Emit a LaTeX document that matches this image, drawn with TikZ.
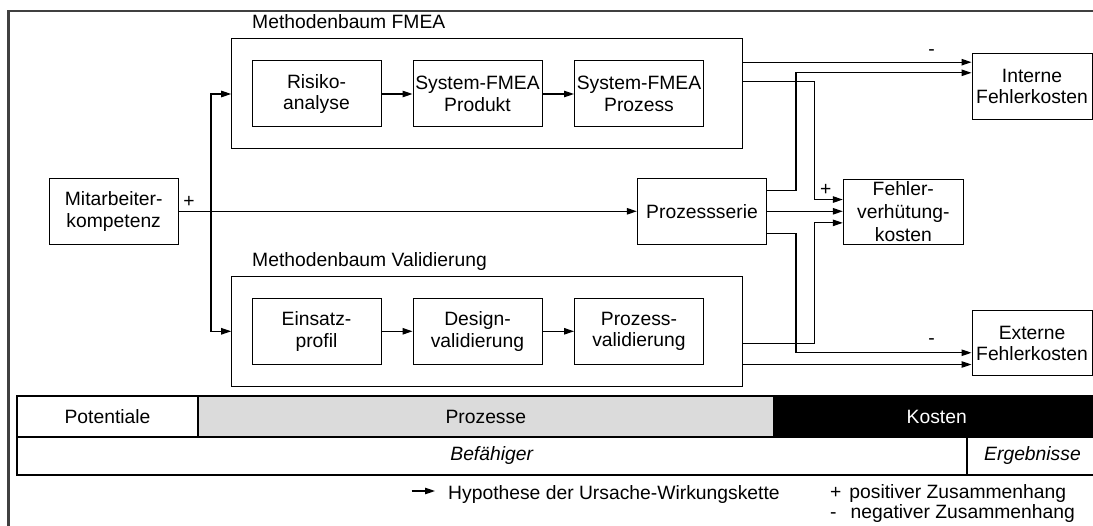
\documentclass[tikz,border=0pt]{standalone}
\usepackage{fontspec}
\setmainfont{Liberation Sans}
\usetikzlibrary{arrows.meta}
\begin{document}
\begin{tikzpicture}[x=1pt,y=-1pt,
  every node/.style={font=\fontsize{19.3}{21.5}\selectfont, inner sep=0pt},
  box/.style={draw, line width=1pt, align=center, minimum height=66pt},
  group/.style={draw, line width=1pt, minimum width=511pt, minimum height=110pt},
  conn/.style={line width=1.1pt, -{Triangle[length=10pt,width=6.5pt]}},
  band/.style={line width=1.8pt},
  grouptitle/.style={anchor=west}]
\useasboundingbox (0,0) rectangle (1093,526);
\clip (0,0) rectangle (1093,526);

% outer frame
\draw[line width=2.5pt, draw=black!75] (8.5,11) rectangle (1130,570);

% columns used for the orthogonal connectors
\coordinate (cb) at (211,0);
\coordinate (cl) at (796,0);
\coordinate (cr) at (814.7,0);

% method trees
\node[group] (fmea) at (487.2,94) {};
\node[grouptitle] (tfmea) at (252,22) {Methodenbaum FMEA};
\node[group] (val) at (487.2,331.7) {};
\node[grouptitle] (tval) at (252,262) {Methodenbaum Validierung};

\node[box, minimum width=129pt] (risk) at (316.5,94) {Risiko-\\analyse};
\node[box, minimum width=129pt] (prod) at (477.5,94) {System-FMEA\\Produkt};
\node[box, minimum width=129pt] (proz) at (639,94) {System-FMEA\\Prozess};

\node[box, minimum width=129pt] (eins) at (316.5,331.3) {Einsatz-\\profil};
\node[box, minimum width=129pt] (design) at (477.5,331.3) {Design-\\validierung};
\node[box, minimum width=129pt] (pval) at (639,331.3) {Prozess-\\validierung};

\draw[conn] (risk.east) -- (prod.west);
\draw[conn] (prod.east) -- (proz.west);
\draw[conn] (eins.east) -- (design.west);
\draw[conn] (design.east) -- (pval.west);

% other boxes
\node[box, minimum width=128.7pt] (mit) at (113.7,211.3) {Mitarbeiter-\\kompetenz};
\node[box, minimum width=129.4pt] (pser) at (702,211.3) {Prozessserie};
\node[box, minimum width=120pt, minimum height=65.3pt, font=\fontsize{19.3}{23}\selectfont] (fehl) at (903.3,211.7) {Fehler-\\verhütung-\\kosten};
\node[box, minimum width=120pt] (intern) at (1032,86.3) {Interne\\Fehlerkosten};
\node[box, minimum width=120pt, minimum height=65.3pt] (ext) at (1032,343.3) {Externe\\Fehlerkosten};

% ports
\coordinate (fo1) at ([yshift=-23.7pt]fmea.north east);
\coordinate (fo2) at ([yshift=-43.3pt]fmea.north east);
\coordinate (vo1) at ([yshift=43.4pt]val.south east);
\coordinate (vo2) at ([yshift=22.7pt]val.south east);
\coordinate (po1) at ([yshift=-12.7pt]pser.north east);
\coordinate (po2) at ([yshift=11.6pt]pser.south east);
\coordinate (ii2) at ([yshift=-20pt]intern.north west);
\coordinate (fi1) at ([yshift=-21pt]fehl.north west);
\coordinate (fi3) at ([yshift=-44.3pt]fehl.north west);
\coordinate (ei1) at ([yshift=-42.6pt]ext.north west);

% connectors
\draw[conn] (mit.east) -- (pser.west);
\draw[conn] (cb |- mit.east) |- (fmea.west |- risk.west);
\draw[conn] (cb |- mit.east) |- (val.west |- eins.west);

\draw[conn] (fo1) -- (fo1 -| intern.west);
\draw[conn] (po1) -- (po1 -| cl) -- (cl |- ii2) -- (ii2);
\draw[conn] (fo2) -- (fo2 -| cr) -- (cr |- fi1) -- (fi1);
\draw[conn] (pser.east) -- (pser.east -| fehl.west);
\draw[conn] (vo1) -- (vo1 -| cr) -- (cr |- fi3) -- (fi3);
\draw[conn] (po2) -- (po2 -| cl) -- (cl |- ei1) -- (ei1);
\draw[conn] (vo2) -- (vo2 -| ext.west);

% signs
\node (s1) at (189,202) {+};
\node (s2) at (931.7,53) {-};
\node (s3) at (825.7,190) {+};
\node (s4) at (931.7,342) {-};

% classification band
\fill[black!14] (198.3,395.7) rectangle (773.3,437.3);
\fill[black] (773.3,395.7) rectangle (1130,437.3);
\draw[band] (16.7,395.7) rectangle (1130,474.7);
\draw[band] (16.7,437.3) -- (1130,437.3);
\draw[band] (198.3,395.7) -- (198.3,437.3);
\draw[band] (966.7,437.3) -- (966.7,474.7);
\node (pot) at (107.5,416.5) {Potentiale};
\node (pro) at (485.8,416.5) {Prozesse};
\node[text=white] (kos) at (936.7,416.5) {Kosten};
\node (bef) at (491.7,456) {\itshape Befähiger};
\node (erg) at (1032.5,456) {\itshape Ergebnisse};

% legend
\coordinate (la) at (411.7,491);
\coordinate (lb) at (435,491);
\draw[conn] (la) -- (lb);
\node[anchor=base west] (lh) at (448,500) {Hypothese der Ursache-Wirkungskette};
\node[anchor=base west] (lp) at (830,498.5) {+\hspace{8pt}positiver Zusammenhang};
\node[anchor=base west] (ln) at (830,518.5) {-\hspace{14pt}negativer Zusammenhang};
\end{tikzpicture}
\end{document}
